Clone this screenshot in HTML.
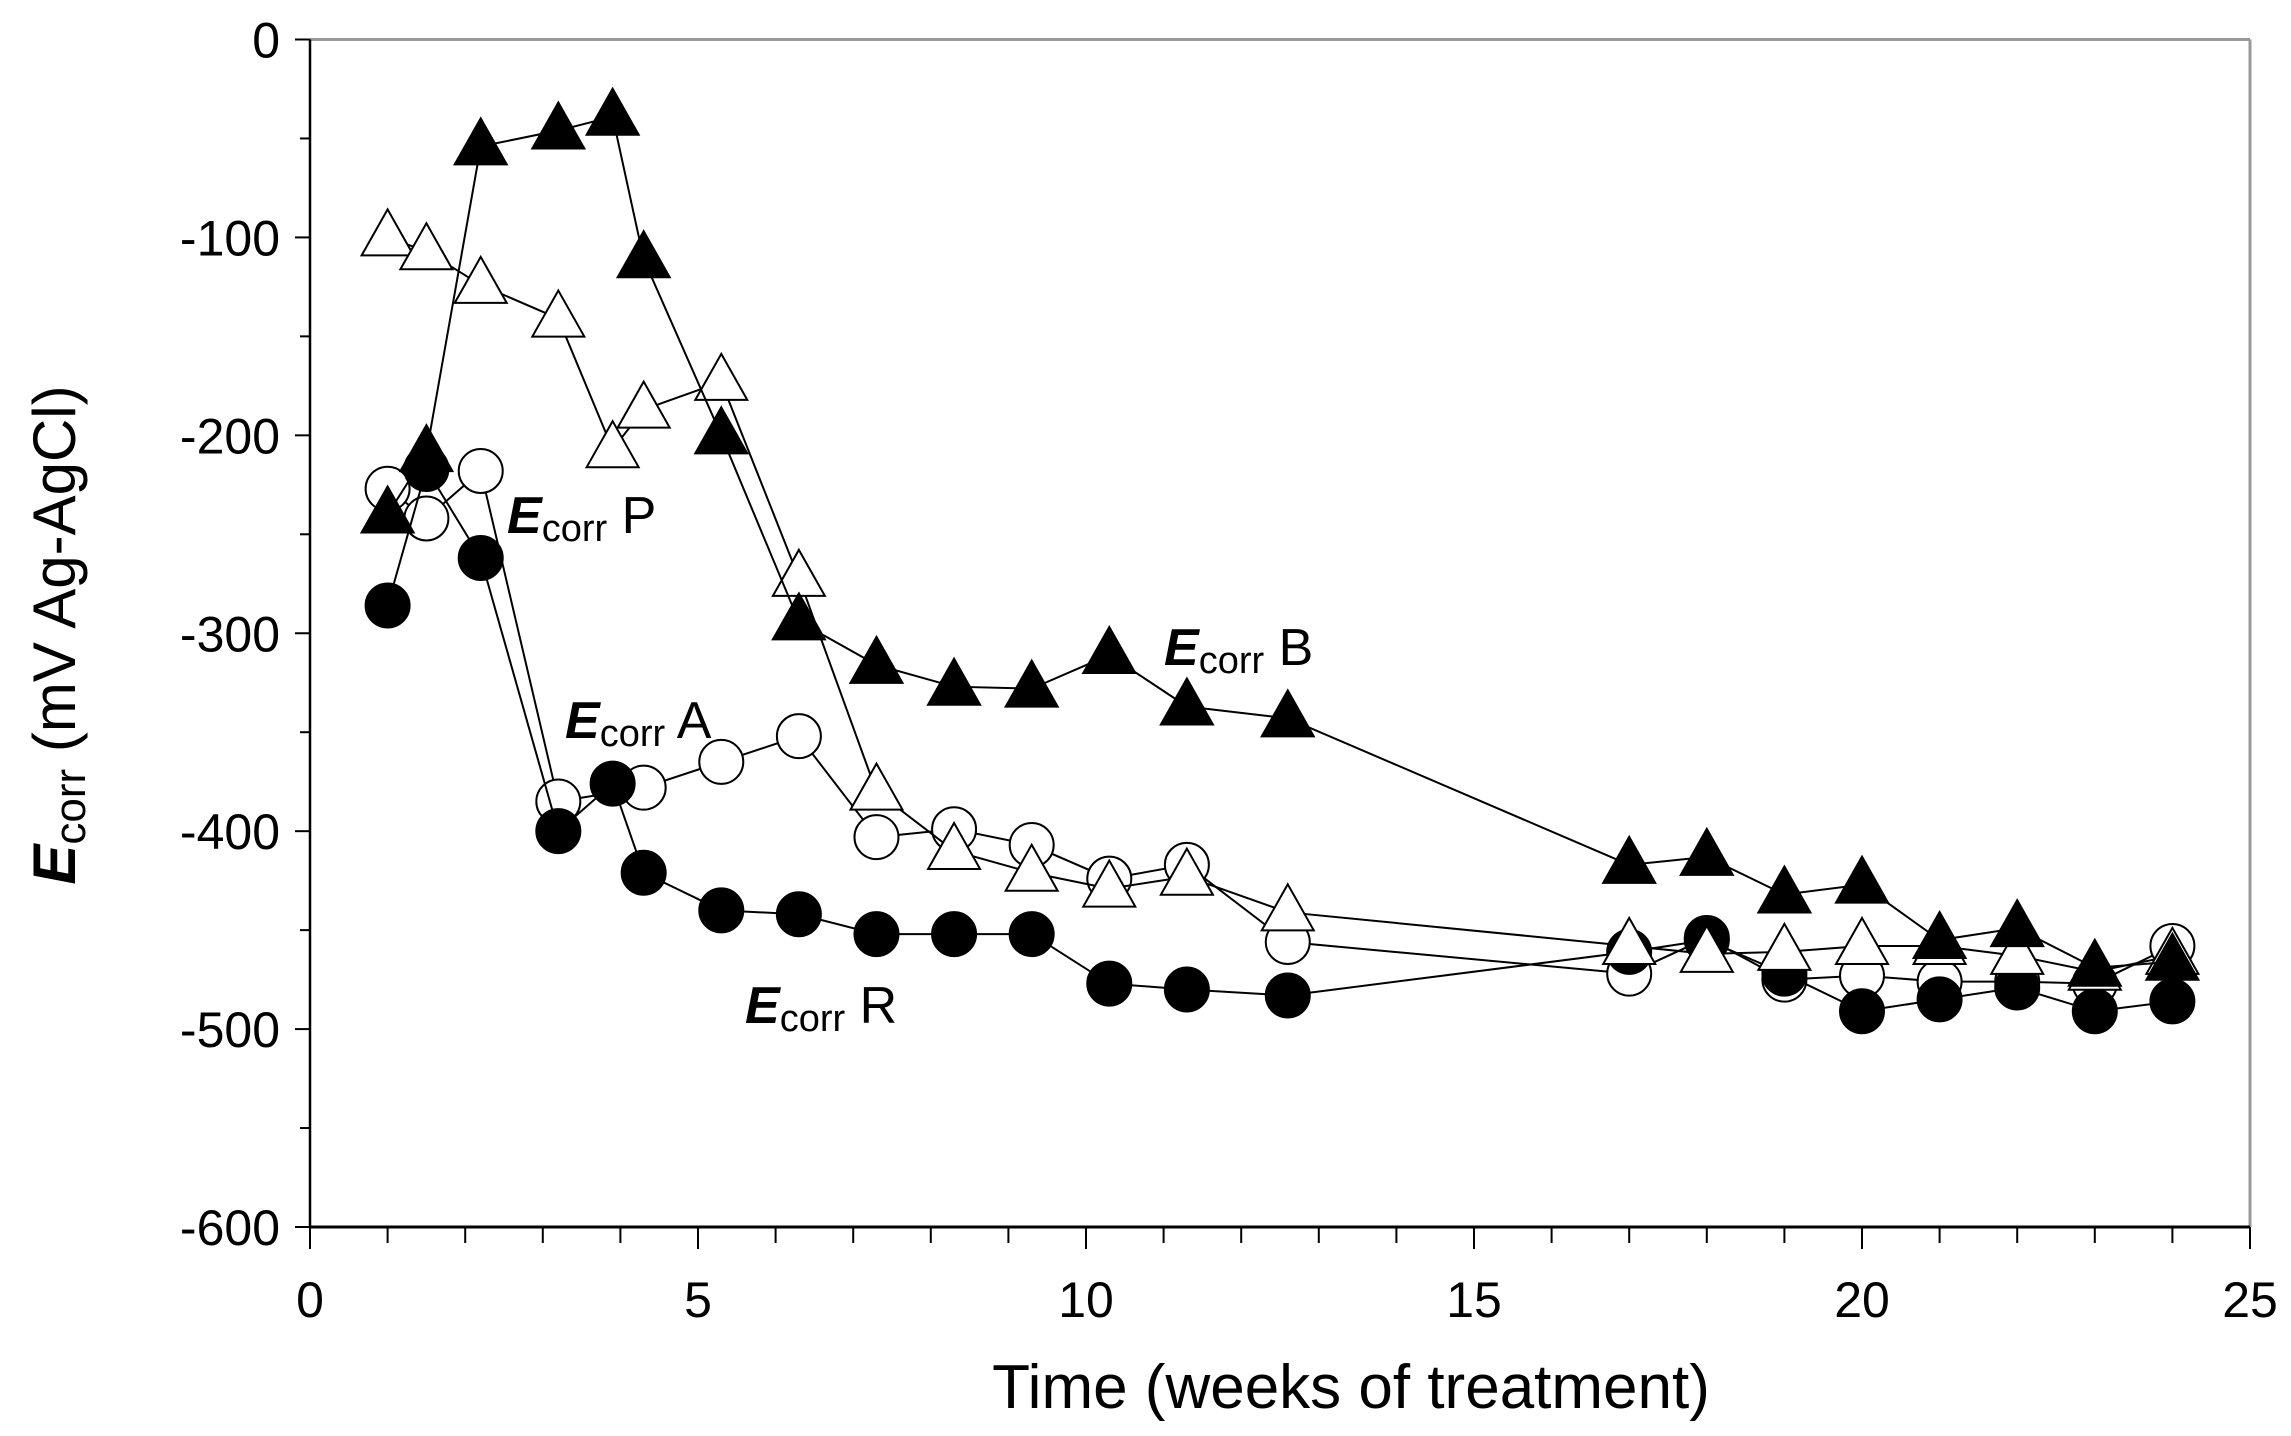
<!DOCTYPE html>
<html><head><meta charset="utf-8"><style>
html,body{margin:0;padding:0;background:#fff;}
svg{display:block;font-family:"Liberation Sans",sans-serif;}
</style></head><body>
<svg id="chart" width="2291" height="1436" viewBox="0 0 2291 1436" xmlns="http://www.w3.org/2000/svg">
<g id="axes"></g>
<g id="series"></g>
<g id="labels">
<text x="507" y="533" font-size="52"><tspan font-weight="bold" font-style="italic">E</tspan><tspan font-size="38" dy="8">corr</tspan><tspan dy="-8"> P</tspan></text>
<text x="565" y="738" font-size="52"><tspan font-weight="bold" font-style="italic">E</tspan><tspan font-size="38" dy="8">corr</tspan><tspan dy="-8"> A</tspan></text>
<text x="1164" y="665" font-size="52"><tspan font-weight="bold" font-style="italic">E</tspan><tspan font-size="38" dy="8">corr</tspan><tspan dy="-8"> B</tspan></text>
<text x="745" y="1023" font-size="52"><tspan font-weight="bold" font-style="italic">E</tspan><tspan font-size="38" dy="8">corr</tspan><tspan dy="-8"> R</tspan></text>
<text x="1351" y="1408" font-size="62" text-anchor="middle">Time (weeks of treatment)</text>
<text transform="translate(75,635) rotate(-90)" font-size="60" text-anchor="middle"><tspan font-weight="bold" font-style="italic">E</tspan><tspan font-size="44" dy="10">corr</tspan><tspan dy="-10"> (mV Ag-AgCl)</tspan></text>
</g>
</svg>
<script>
const xB=[1,1.5,2.2,3.2,3.9,4.3,5.3,6.3,7.3,8.3,9.3,10.3,11.3,12.6,17,18,19,20,21,22,23,24];
const yB=[-240,-209,-54,-46,-39,-111,-200,-294,-316,-327,-328,-311,-337,-343,-417,-413,-432,-427,-455,-449,-469,-466];
const xP=[1,1.5,2.2,3.2,3.9,4.3,5.3,6.3,7.3,8.3,9.3,10.3,11.3,12.6,17,18,19,20,21,22,23,24];
const yP=[-100,-107,-124,-141,-207,-187,-173,-272,-380,-410,-421,-429,-423,-441,-458,-462,-461,-458,-458,-463,-471,-463];
const xA=[1,1.5,2.2,3.2,4.3,5.3,6.3,7.3,8.3,9.3,10.3,11.3,12.6,17,18,19,20,21,22,23,24];
const yA=[-227,-242,-218,-385,-378,-365,-352,-403,-399,-407,-424,-417,-456,-472,-454,-475,-473,-476,-476,-477,-458];
const xR=[1,1.5,2.2,3.2,3.9,4.3,5.3,6.3,7.3,8.3,9.3,10.3,11.3,12.6,17,18,19,20,21,22,23,24];
const yR=[-286,-217,-262,-400,-376,-421,-440,-442,-452,-452,-452,-477,-480,-483,-461,-455,-472,-491,-485,-479,-491,-486];
const xTicks=[0,5,10,15,20,25];
const yTicks=[0,-100,-200,-300,-400,-500,-600];

const NS="http://www.w3.org/2000/svg";
const L=310,R=2250,T=39.5,B=1227;
const sx=v=>L+(v-0)/25*(R-L);
const sy=v=>T+(0-v)/600*(B-T);
function mk(tag,attrs,parent){const e=document.createElementNS(NS,tag);for(const k in attrs)e.setAttribute(k,attrs[k]);parent.appendChild(e);return e;}
const ax=document.getElementById('axes');
let e;
e=mk('line',{x1:L,y1:T,x2:R,y2:T,stroke:'#999','stroke-width':3},ax);


e=mk('line',{x1:R,y1:T,x2:R,y2:B,stroke:'#999','stroke-width':3},ax);


e=mk('line',{x1:L,y1:T,x2:L,y2:B,stroke:'#000','stroke-width':2.5},ax);


e=mk('line',{x1:L,y1:B,x2:R,y2:B,stroke:'#000','stroke-width':3},ax);


for(let v=0;v<=25;v++){
  e=mk('line',{x1:sx(v),y1:B,x2:sx(v),y2:B+(v%5==0?22:16),stroke:'#000','stroke-width':2},ax);
  
  
}
for(let v=0;v>=-600;v-=50){
  e=mk('line',{x1:L-(v%100==0?15:10),y1:sy(v),x2:L,y2:sy(v),stroke:'#000','stroke-width':2},ax);
  
  
}
xTicks.forEach(v=>{
  e=mk('text',{x:sx(v),y:B+90,'font-size':50,'text-anchor':'middle'},ax);
  e.textContent=String(v);
  
  
});
yTicks.forEach(v=>{
  e=mk('text',{x:L-30,y:sy(v)+18,'font-size':50,'text-anchor':'end'},ax);
  e.textContent=String(v);
  
  
});
const sg=document.getElementById('series');
function series(xs,ys,shape,fill,name){
  const g=mk('g',{},sg);
  
  
  const pts=xs.map((x,i)=>sx(x)+','+sy(ys[i])).join(' ');
  e=mk('polyline',{points:pts,fill:'none',stroke:'#000','stroke-width':2},g);
  
  
  xs.forEach((x,i)=>{
    const cx=sx(x),cy=sy(ys[i]);
    let m;
    if(shape==='c') m=mk('circle',{cx:cx,cy:cy,r:22,fill:fill,stroke:'#000','stroke-width':2},g);
    else m=mk('polygon',{points:`${cx},${cy-28} ${cx+26},${cy+18} ${cx-26},${cy+18}`,fill:fill,stroke:'#000','stroke-width':2},g);
    
    
  });
}
series(xA,yA,'c','#fff','series-a');
series(xR,yR,'c','#000','series-r');
series(xP,yP,'t','#fff','series-p');
series(xB,yB,'t','#000','series-b');
</script>
</body></html>
